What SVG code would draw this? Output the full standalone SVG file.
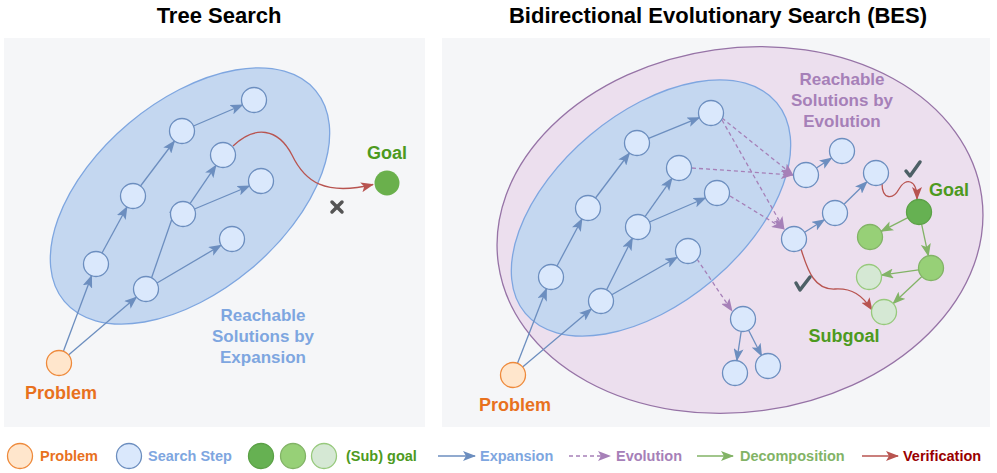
<svg xmlns="http://www.w3.org/2000/svg" width="997" height="473" viewBox="0 0 997 473">
<style>
text{font-family:"Liberation Sans",Arial,sans-serif;font-weight:bold}
.title{font-size:22px;fill:#000}
.lbl{font-size:17px}
.big{font-size:18px}
.leg{font-size:14.5px}
.step{fill:#dae8fc;stroke:#6c8ebf;stroke-width:1.3}
.prob{fill:#ffe6cc;stroke:#ee8a3c;stroke-width:1.3}
.g1{fill:#66b152;stroke:#5ba146;stroke-width:1.3}
.g2{fill:#97d077;stroke:#82b366;stroke-width:1.3}
.g3{fill:#d5e8d4;stroke:#97c97c;stroke-width:1.3}
.exp{stroke:#6c8ebf;stroke-width:1.3;fill:none;marker-end:url(#mb)}
.evo{stroke:#a680b8;stroke-width:1.3;fill:none;stroke-dasharray:4 3;marker-end:url(#mp)}
.dec{stroke:#82b366;stroke-width:1.3;fill:none;marker-end:url(#mg)}
.ver{stroke:#b85450;stroke-width:1.3;fill:none;marker-end:url(#mr)}
.chk{stroke:#4d6066;stroke-width:3.5;fill:none;stroke-linecap:round;stroke-linejoin:round}
.reach{fill:#c4d7f0;stroke:#7ea6e0;stroke-width:1.3}
</style>
<defs>
<marker id="mb" markerUnits="userSpaceOnUse" markerWidth="13" markerHeight="10" viewBox="0 0 13 10" refX="12" refY="5" orient="auto"><path d="M0,0 L13,5 L0,10 L3,5 z" fill="#6c8ebf"/></marker>
<marker id="mp" markerUnits="userSpaceOnUse" markerWidth="13" markerHeight="10" viewBox="0 0 13 10" refX="12" refY="5" orient="auto"><path d="M0,0 L13,5 L0,10 L3,5 z" fill="#a680b8"/></marker>
<marker id="mg" markerUnits="userSpaceOnUse" markerWidth="13" markerHeight="10" viewBox="0 0 13 10" refX="12" refY="5" orient="auto"><path d="M0,0 L13,5 L0,10 L3,5 z" fill="#82b366"/></marker>
<marker id="mr" markerUnits="userSpaceOnUse" markerWidth="13" markerHeight="10" viewBox="0 0 13 10" refX="12" refY="5" orient="auto"><path d="M0,0 L13,5 L0,10 L3,5 z" fill="#b85450"/></marker>
</defs>
<rect width="997" height="473" fill="#ffffff"/>
<text class="title" x="219" y="23" text-anchor="middle">Tree Search</text>
<text class="title" x="718" y="23" text-anchor="middle">Bidirectional Evolutionary Search (BES)</text>
<rect x="4" y="38" width="421" height="389" fill="#f5f6f8"/>
<rect x="442" y="38" width="548" height="389" fill="#f5f6f8"/>
<g id="ellipses">
<ellipse cx="740" cy="230" rx="244" ry="182" transform="rotate(-8 740 230)" fill="#ecdfee" stroke="#9673a6" stroke-width="1.3"/>
<ellipse class="reach" cx="190" cy="196" rx="164" ry="95" transform="rotate(-40 190 196)"/>
<ellipse class="reach" cx="651" cy="208" rx="164" ry="95" transform="rotate(-40 651 208)"/>
</g>
<g id="connectors">
<line class="exp" x1="63.4" y1="351.3" x2="91.6" y2="275.7"/>
<line class="exp" x1="68.5" y1="354.9" x2="136.5" y2="297.1"/>
<line class="exp" x1="102" y1="253" x2="127" y2="207"/>
<line class="exp" x1="140.5" y1="186" x2="174.5" y2="141"/>
<line class="exp" x1="193.5" y1="126" x2="242.5" y2="105"/>
<line class="exp" x1="151.5" y1="278" x2="177.5" y2="203"/>
<line class="exp" x1="157" y1="283" x2="221" y2="245.3"/>
<line class="exp" x1="190" y1="203.7" x2="216" y2="165.4"/>
<line class="exp" x1="194.5" y1="209" x2="249.5" y2="186"/>
<path class="ver" d="M233 146 C255 125,278 128,292 155 C305 182,325 196,373 184.5"/>
<line class="exp" x1="517.5" y1="363.3" x2="546.5" y2="288.7"/>
<line class="exp" x1="522.6" y1="367" x2="591.4" y2="309"/>
<line class="exp" x1="557" y1="266" x2="582" y2="219"/>
<line class="exp" x1="595.5" y1="198" x2="629.5" y2="153"/>
<line class="exp" x1="648.6" y1="138.3" x2="699.4" y2="117.7"/>
<line class="exp" x1="606.6" y1="289.8" x2="632.4" y2="238.2"/>
<line class="exp" x1="611.8" y1="294.8" x2="677.2" y2="257.2"/>
<line class="exp" x1="645" y1="216.7" x2="672" y2="178.3"/>
<line class="exp" x1="649.5" y1="222" x2="705.5" y2="198"/>
<line class="evo" x1="722" y1="118" x2="793" y2="175"/>
<line class="evo" x1="722" y1="120" x2="784" y2="229"/>
<line class="evo" x1="692" y1="168" x2="793" y2="175"/>
<line class="evo" x1="730" y1="196" x2="784" y2="229"/>
<line class="evo" x1="697" y1="259" x2="732" y2="311"/>
<line class="exp" x1="816.4" y1="168" x2="831.6" y2="158"/>
<line class="exp" x1="804.6" y1="232.3" x2="824.4" y2="219.7"/>
<line class="exp" x1="844" y1="204.3" x2="867" y2="181.7"/>
<line class="exp" x1="741.2" y1="331.4" x2="736.8" y2="360.6"/>
<line class="exp" x1="748.6" y1="330.2" x2="761.6" y2="355.8"/>
<line class="dec" x1="907.9" y1="217.7" x2="881.1" y2="231.3"/>
<line class="dec" x1="921.6" y1="224.2" x2="928.4" y2="255.8"/>
<line class="dec" x1="918.6" y1="269.8" x2="881.4" y2="275.2"/>
<line class="dec" x1="921.9" y1="276.5" x2="893.1" y2="303.5"/>
<path class="ver" d="M882 183 C882 200,893 200,899 189 C905 178,917 178,917 199"/>
<path class="ver" d="M801 249 C808 272,815 290,835 289 C852 288,862 295,872 310"/>
</g>
<g id="tree-nodes">
<circle class="prob" cx="59" cy="363" r="12.5"/>
<circle class="step" cx="96" cy="264" r="12.5"/>
<circle class="step" cx="146" cy="289" r="12.5"/>
<circle class="step" cx="133" cy="196" r="12.5"/>
<circle class="step" cx="183" cy="214" r="12.5"/>
<circle class="step" cx="232" cy="239" r="12.5"/>
<circle class="step" cx="182" cy="131" r="12.5"/>
<circle class="step" cx="223" cy="155" r="12.5"/>
<circle class="step" cx="261" cy="181" r="12.5"/>
<circle class="step" cx="254" cy="100" r="12.5"/>
<circle cx="387" cy="183" r="12.5" fill="#6ab04c"/>
</g>
<g id="tree-labels">
<text class="big" x="61" y="399" text-anchor="middle" fill="#e8711e">Problem</text>
<text class="big" x="387" y="159" text-anchor="middle" fill="#4d9a1e">Goal</text>
<text class="lbl" x="263" y="321" text-anchor="middle" fill="#7ea6e0">Reachable</text>
<text class="lbl" x="263" y="342" text-anchor="middle" fill="#7ea6e0">Solutions by</text>
<text class="lbl" x="263" y="363" text-anchor="middle" fill="#7ea6e0">Expansion</text>
<g id="fail-mark" stroke="#555" stroke-width="3.5" stroke-linecap="round"><line x1="332" y1="202" x2="342" y2="212"/><line x1="342" y1="202" x2="332" y2="212"/></g>
</g>
<g id="bes-nodes">
<circle class="prob" cx="513" cy="375" r="12.5"/>
<circle class="step" cx="551" cy="277" r="12.5"/>
<circle class="step" cx="601" cy="301" r="12.5"/>
<circle class="step" cx="588" cy="208" r="12.5"/>
<circle class="step" cx="638" cy="227" r="12.5"/>
<circle class="step" cx="688" cy="251" r="12.5"/>
<circle class="step" cx="637" cy="143" r="12.5"/>
<circle class="step" cx="679" cy="168" r="12.5"/>
<circle class="step" cx="717" cy="193" r="12.5"/>
<circle class="step" cx="711" cy="113" r="12.5"/>
<circle class="step" cx="806" cy="175" r="12.5"/>
<circle class="step" cx="842" cy="151" r="12.5"/>
<circle class="step" cx="794" cy="239" r="12.5"/>
<circle class="step" cx="835" cy="213" r="12.5"/>
<circle class="step" cx="876" cy="173" r="12.5"/>
<circle class="step" cx="743" cy="319" r="12.5"/>
<circle class="step" cx="735" cy="373" r="12.5"/>
<circle class="step" cx="768" cy="366" r="12.5"/>
<circle class="g1" cx="919" cy="212" r="12.5"/>
<circle class="g2" cx="870" cy="237" r="12.5"/>
<circle class="g2" cx="931" cy="268" r="12.5"/>
<circle class="g3" cx="869" cy="277" r="12.5"/>
<circle class="g3" cx="884" cy="312" r="12.5"/>
</g>
<g id="bes-labels">
<text class="big" x="515" y="411" text-anchor="middle" fill="#e8711e">Problem</text>
<text class="big" x="949" y="196" text-anchor="middle" fill="#4d9a1e">Goal</text>
<text class="big" x="844" y="342" text-anchor="middle" fill="#4d9a1e">Subgoal</text>
<text class="lbl" x="842" y="85" text-anchor="middle" fill="#a680b8">Reachable</text>
<text class="lbl" x="842" y="106" text-anchor="middle" fill="#a680b8">Solutions by</text>
<text class="lbl" x="842" y="127" text-anchor="middle" fill="#a680b8">Evolution</text>
<polyline class="chk" points="906,171 910,176 920,162"/>
<polyline class="chk" points="796,283 800,290 810,277"/>
</g>
<g id="legend">
<circle class="prob" cx="20" cy="456" r="12.5"/>
<text class="leg" x="40" y="461" fill="#e8711e">Problem</text>
<circle class="step" cx="129" cy="456" r="12.5"/>
<text class="leg" x="148" y="461" fill="#7ea6e0">Search Step</text>
<circle class="g1" cx="261" cy="456" r="12.5"/>
<circle class="g2" cx="293" cy="456" r="12.5"/>
<circle class="g3" cx="324" cy="456" r="12.5"/>
<text class="leg" x="346" y="461" fill="#4d9a1e">(Sub) goal</text>
<line class="exp" x1="438" y1="456" x2="475" y2="456"/>
<text class="leg" x="480" y="461" fill="#7ea6e0">Expansion</text>
<line class="evo" x1="569" y1="456" x2="610" y2="456"/>
<text class="leg" x="616" y="461" fill="#a680b8">Evolution</text>
<line class="dec" x1="697" y1="456" x2="733" y2="456"/>
<text class="leg" x="740" y="461" fill="#82b366">Decomposition</text>
<line class="ver" x1="862" y1="456" x2="898" y2="456"/>
<text class="leg" x="903" y="461" fill="#990000">Verification</text>
</g>
</svg>
